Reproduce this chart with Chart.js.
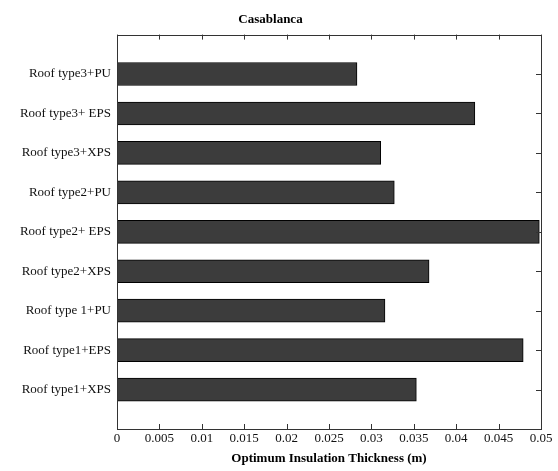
<!DOCTYPE html>
<html>
<head>
<meta charset="utf-8">
<script src="https://cdn.jsdelivr.net/npm/chart.js@4/dist/chart.umd.min.js"></script>
<style>
  html, body { margin: 0; padding: 0; background: #fff; }
  #wrap { width: 558px; height: 471px; position: relative; }
</style>
</head>
<body>
<div id="wrap"><canvas id="thicknessChart"></canvas></div>
<script>
// top to bottom
const roofLabels = [
    'Roof type3+PU', 'Roof type3+ EPS', 'Roof type3+XPS',
    'Roof type2+PU', 'Roof type2+ EPS', 'Roof type2+XPS',
    'Roof type 1+PU', 'Roof type1+EPS', 'Roof type1+XPS'
];
const thickness = [0.0283, 0.0422, 0.0311, 0.0327, 0.0498, 0.0368, 0.0316, 0.0479, 0.0353];
const xTickMin = 0, xTickMax = 0.05, xTickStep = 0.005;

const serif = "'Liberation Serif', 'DejaVu Serif', serif";

// matlab style box with inward ticks
const boxTicks = {
    id: 'boxTicks',
    afterDraw(chart) {
        const { ctx, chartArea: a, scales } = chart;
        ctx.save();
        ctx.strokeStyle = '#333';
        ctx.lineWidth = 1;
        ctx.strokeRect(Math.round(a.left) + 0.5, Math.round(a.top) + 0.5,
            Math.round(a.right - a.left), Math.round(a.bottom - a.top));
        ctx.beginPath();
        scales.x.ticks.forEach((t, i) => {
            const px = Math.round(scales.x.getPixelForTick(i)) + 0.5;
            ctx.moveTo(px, a.bottom); ctx.lineTo(px, a.bottom - 5);
            ctx.moveTo(px, a.top); ctx.lineTo(px, a.top + 5);
        });
        for (let i = 1; i <= roofLabels.length; i++) {
            const py = Math.round(scales.y.getPixelForValue(i)) + 0.5;
            ctx.moveTo(a.right, py); ctx.lineTo(a.right - 5, py);
        }
        ctx.stroke();
        ctx.restore();
    }
};

new Chart(document.getElementById('thicknessChart'), {
    type: 'bar',
    data: {
        labels: ['', ...roofLabels, ''],
        datasets: [{
            data: [null, ...thickness, null],
            backgroundColor: '#3c3c3c',
            borderColor: '#000',
            borderWidth: 1,
            borderSkipped: false,
            barThickness: 23
        }]
    },
    options: {
        indexAxis: 'y',
        responsive: true,
        maintainAspectRatio: false,
        animation: false,
        layout: { padding: { left: 0, right: 17, top: 0, bottom: 0 } },
        plugins: {
            legend: { display: false },
            tooltip: { enabled: false },
            title: {
                display: true,
                text: 'Casablanca',
                color: '#000',
                font: { family: serif, size: 13, weight: 'bold' },
                padding: { top: 12, bottom: 7 }
            }
        },
        scales: {
            x: {
                type: 'linear',
                min: xTickMin,
                max: xTickMax,
                grid: { display: false, drawTicks: false },
                border: { display: false },
                ticks: {
                    stepSize: xTickStep,
                    padding: 2,
                    color: '#111',
                    maxRotation: 0,
                    font: { family: serif, size: 13 },
                    callback: v => String(Number(v.toFixed(3)))
                },
                title: {
                    display: true,
                    text: 'Optimum Insulation Thickness (m)',
                    color: '#000',
                    font: { family: serif, size: 13, weight: 'bold' },
                    padding: { top: 0, bottom: 5 }
                },
                afterFit: s => { s.height = 42; }
            },
            y: {
                offset: false,
                grid: { display: false, drawTicks: false },
                border: { display: false },
                ticks: {
                    padding: 6,
                    color: '#111',
                    autoSkip: false,
                    font: { family: serif, size: 13 }
                },
                afterFit: s => { s.width = 117; }
            }
        }
    },
    plugins: [boxTicks]
});
</script>
</body>
</html>
